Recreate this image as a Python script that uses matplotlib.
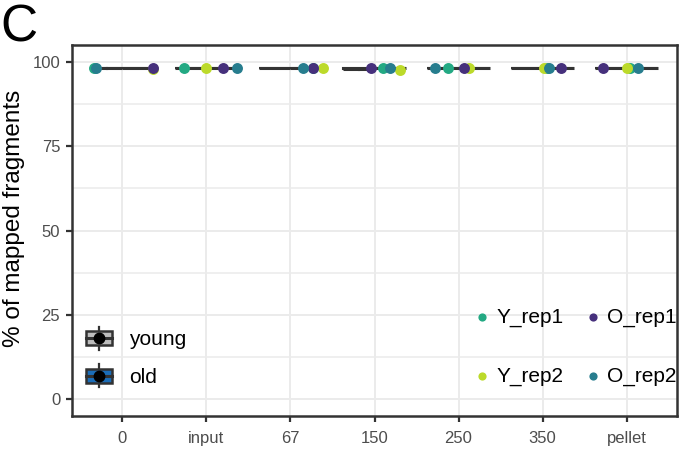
import numpy as np
import matplotlib
matplotlib.use('Agg')
import matplotlib.pyplot as plt
from matplotlib.legend_handler import HandlerBase
from matplotlib.patches import Rectangle, Patch
from matplotlib.lines import Line2D

plt.rcParams['font.family'] = ['Liberation Sans', 'DejaVu Sans']

# Data
categories = ['0', 'input', '67', '150', '250', '350', 'pellet']
y_rep1 = [98.2, 98.1, 98.1, 98.2, 98.2, 98.1, 98.1]
y_rep2 = [98.0, 98.1, 98.1, 97.7, 98.1, 98.1, 98.1]
o_rep1 = [98.2, 98.1, 98.2, 98.2, 98.2, 98.2, 98.2]
o_rep2 = [98.2, 98.2, 98.1, 98.2, 98.2, 98.1, 98.1]

# jitter offsets of the points (category units)
y_rep1_dx = [-0.34, -0.27, 0.27, 0.10, -0.13, 0.05, 0.04]
y_rep2_dx = [0.36, 0.00, 0.39, 0.30, 0.13, 0.02, 0.00]
o_rep1_dx = [0.36, 0.20, 0.27, -0.04, 0.06, 0.22, -0.28]
o_rep2_dx = [-0.32, 0.36, 0.15, 0.18, -0.28, 0.08, 0.14]

rep_colors = {'Y_rep1': '#23A983', 'Y_rep2': '#BCDA2A',
              'O_rep1': '#46307C', 'O_rep2': '#277D8E'}
group_colors = {'young': '#BDBDBD', 'old': '#1B6DB8'}
dark = '#333333'


class BoxKeyHandler(HandlerBase):
    # ggplot-style boxplot key: whisker, box, median, black dot
    def create_artists(self, legend, orig_handle, xdescent, ydescent,
                       width, height, fontsize, trans):
        x0, y0 = -xdescent, -ydescent
        cx, cy = x0 + width / 2, y0 + height / 2
        bh = height * 0.62
        whisk = Line2D([cx, cx], [y0, y0 + height], color=dark, lw=1.6,
                       transform=trans)
        box = Rectangle((x0, cy - bh / 2), width, bh,
                        facecolor=orig_handle.get_facecolor(),
                        edgecolor=dark, lw=1.8, transform=trans)
        med = Line2D([x0, x0 + width], [cy, cy], color=dark, lw=2.2,
                     transform=trans)
        dot = Line2D([cx], [cy], marker='o', color='black', markersize=7.5,
                     transform=trans)
        return [whisk, box, med, dot]


fig = plt.figure(figsize=(6.86, 4.66), dpi=100)
ax = fig.add_axes([72 / 686, 50 / 466, 605 / 686, 371 / 466])

x = np.arange(1, len(categories) + 1)

young = [[a, b] for a, b in zip(y_rep1, y_rep2)]
old = [[a, b] for a, b in zip(o_rep1, o_rep2)]
box_kw = dict(widths=0.375, patch_artist=True, showfliers=False,
              whiskerprops=dict(color=dark, lw=1.5),
              capprops=dict(lw=0),
              medianprops=dict(color=dark, lw=2.2),
              manage_ticks=False, zorder=2)
by = ax.boxplot(young, positions=x - 0.1875,
                boxprops=dict(facecolor=group_colors['young'], edgecolor=dark, lw=1.5),
                **box_kw)
bo = ax.boxplot(old, positions=x + 0.1875,
                boxprops=dict(facecolor=group_colors['old'], edgecolor=dark, lw=1.5),
                **box_kw)

series = [('Y_rep1', y_rep1, y_rep1_dx), ('Y_rep2', y_rep2, y_rep2_dx),
          ('O_rep1', o_rep1, o_rep1_dx), ('O_rep2', o_rep2, o_rep2_dx)]
for name, vals, dx in series:
    ax.scatter(x + np.array(dx), vals, s=62, color=rep_colors[name],
               linewidths=0, zorder=3, label=name)

ax.set_xlim(0.4, len(categories) + 0.6)
ax.set_ylim(-5, 105)
ax.set_xticks(x)
ax.set_xticklabels(categories)
ax.set_yticks([0, 25, 50, 75, 100])
ax.set_yticks([12.5, 37.5, 62.5, 87.5], minor=True)
ax.tick_params(axis='both', which='major', length=4.5, width=1.6, color=dark,
               labelcolor='#4D4D4D', labelsize=12, pad=4)
ax.tick_params(axis='x', which='major', pad=6)
ax.tick_params(axis='y', which='minor', length=0)
ax.grid(True, which='major', color='#EBEBEB', lw=1.4, zorder=0)
ax.grid(True, which='minor', axis='y', color='#EBEBEB', lw=1.1, zorder=0)
ax.set_axisbelow(True)
for s in ax.spines.values():
    s.set_color(dark)
    s.set_linewidth(1.8)

ax.set_ylabel('% of mapped fragments', fontsize=17.5)
ax.yaxis.set_label_coords(-0.078, 0.534)

# replicate legend
h, l = ax.get_legend_handles_labels()
leg1 = ax.legend(h, l, ncol=2,
                 loc='center', bbox_to_anchor=(576 / 686, 1 - 347 / 466),
                 bbox_transform=fig.transFigure, frameon=False, fontsize=15,
                 markerscale=0.75, handlelength=0.6, handletextpad=0.4,
                 columnspacing=1.1, labelspacing=1.9, borderpad=0)
ax.add_artist(leg1)

# group (boxplot) legend
gh = [Patch(facecolor=group_colors['young']), Patch(facecolor=group_colors['old'])]
ax.legend(gh, ['young', 'old'], handler_map={Patch: BoxKeyHandler()},
          loc='center', bbox_to_anchor=(136 / 686, 1 - 357 / 466),
          bbox_transform=fig.transFigure, frameon=False, fontsize=15,
          handlelength=1.25, handleheight=1.35, handletextpad=0.85,
          labelspacing=0.68, borderpad=0)

fig.text(0, 1 - 42 / 466, 'C', fontsize=37, ha='left', va='baseline')

fig.savefig('out.png', dpi=100)
